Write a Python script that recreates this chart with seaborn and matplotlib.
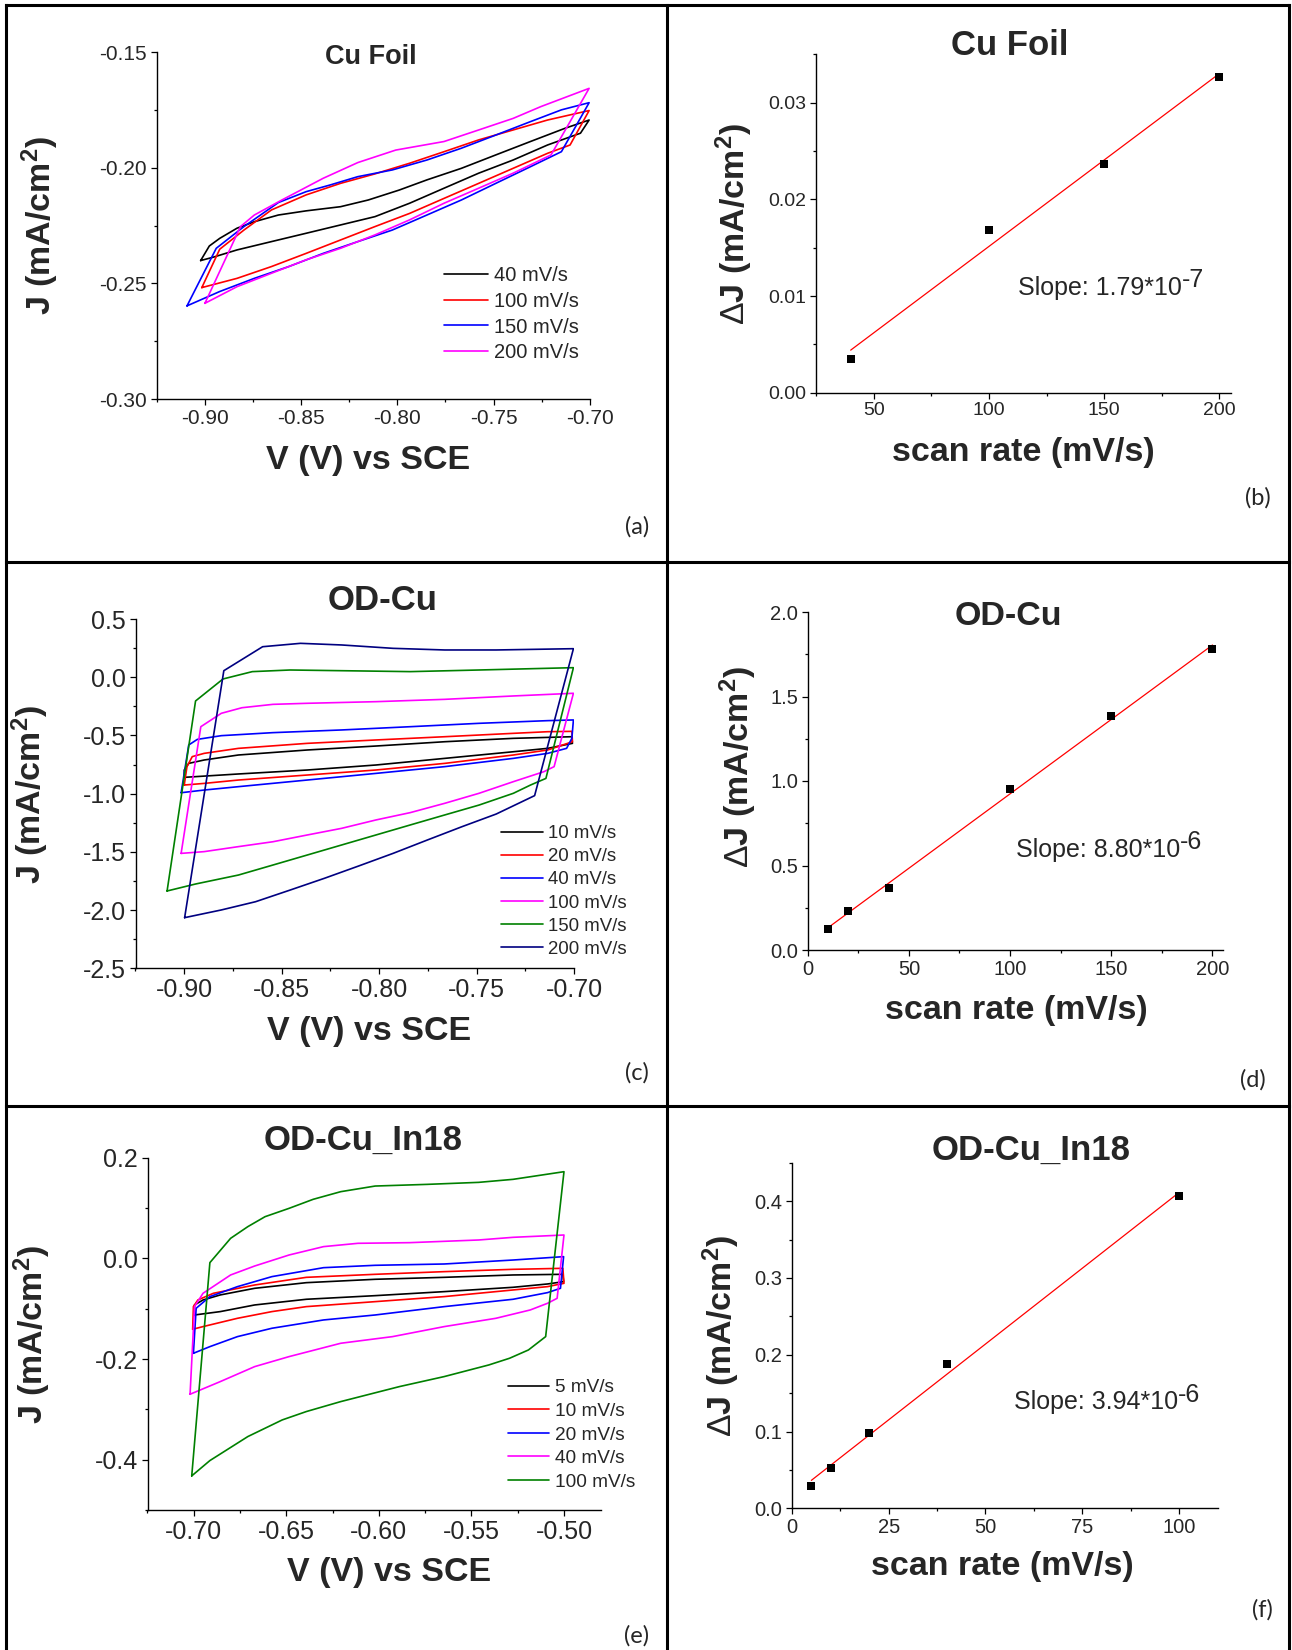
import numpy as np
import pandas as pd
import matplotlib
matplotlib.use("Agg")
import matplotlib.pyplot as plt
from matplotlib.lines import Line2D
from matplotlib.ticker import AutoMinorLocator, MultipleLocator, FormatStrFormatter
import seaborn as sns

# ---------------- data ----------------
# (a) Cu foil cyclic voltammograms, V vs SCE and J in mA/cm2
cu_labels = ["40 mV/s", "100 mV/s", "150 mV/s", "200 mV/s"]
cu_40_v = [-0.9022, -0.8977, -0.8923, -0.8833, -0.8743, -0.8618, -0.8474, -0.8295, -0.8151, -0.7990, -0.7846, -0.7667, -0.7488, -0.7308, -0.7129, -0.7003, -0.7048, -0.7219, -0.7398, -0.7577, -0.7757, -0.7936, -0.8116, -0.8295, -0.8474, -0.8654, -0.8833, -0.8959, -0.9022]
cu_40_j = [-0.2401, -0.2338, -0.2305, -0.2261, -0.2233, -0.2204, -0.2186, -0.2168, -0.2139, -0.2096, -0.2052, -0.2002, -0.1944, -0.1886, -0.1829, -0.1793, -0.1850, -0.1901, -0.1966, -0.2023, -0.2088, -0.2153, -0.2211, -0.2247, -0.2283, -0.2319, -0.2355, -0.2387, -0.2401]
cu_100_v = [-0.9016, -0.8923, -0.8797, -0.8654, -0.8474, -0.8295, -0.8116, -0.7936, -0.7757, -0.7577, -0.7398, -0.7219, -0.7003, -0.7102, -0.7219, -0.7398, -0.7577, -0.7757, -0.7936, -0.8116, -0.8295, -0.8474, -0.8654, -0.8833, -0.9016]
cu_100_j = [-0.2518, -0.2352, -0.2269, -0.2182, -0.2117, -0.2067, -0.2026, -0.1980, -0.1930, -0.1879, -0.1836, -0.1793, -0.1752, -0.1901, -0.1937, -0.2002, -0.2067, -0.2132, -0.2197, -0.2254, -0.2312, -0.2370, -0.2427, -0.2478, -0.2518]
cu_150_v = [-0.9093, -0.8941, -0.8797, -0.8618, -0.8474, -0.8349, -0.8205, -0.8026, -0.7846, -0.7667, -0.7488, -0.7308, -0.7147, -0.7003, -0.7147, -0.7308, -0.7488, -0.7667, -0.7846, -0.8026, -0.8205, -0.8385, -0.8564, -0.8743, -0.8923, -0.9093]
cu_150_j = [-0.2597, -0.2348, -0.2254, -0.2150, -0.2103, -0.2074, -0.2038, -0.2009, -0.1966, -0.1915, -0.1858, -0.1800, -0.1749, -0.1718, -0.1930, -0.1995, -0.2067, -0.2139, -0.2204, -0.2269, -0.2319, -0.2370, -0.2427, -0.2478, -0.2535, -0.2597]
cu_200_v = [-0.9000, -0.8815, -0.8743, -0.8600, -0.8385, -0.8205, -0.8008, -0.7757, -0.7577, -0.7398, -0.7254, -0.7003, -0.7201, -0.7398, -0.7577, -0.7757, -0.7936, -0.8116, -0.8295, -0.8474, -0.8654, -0.8833, -0.9000]
cu_200_j = [-0.2586, -0.2254, -0.2204, -0.2139, -0.2045, -0.1977, -0.1923, -0.1886, -0.1836, -0.1786, -0.1735, -0.1656, -0.1944, -0.2023, -0.2088, -0.2153, -0.2225, -0.2290, -0.2348, -0.2398, -0.2456, -0.2514, -0.2586]

# (b) Cu foil double-layer current difference vs scan rate
cu_rate = [40, 100, 150, 200]
cu_dj = [0.00346, 0.01685, 0.02365, 0.03266]

# (c) OD-Cu cyclic voltammograms
od_labels = ["10 mV/s", "20 mV/s", "40 mV/s", "100 mV/s", "150 mV/s", "200 mV/s"]
od_10_v = [-0.9000, -0.9000, -0.8977, -0.8898, -0.8722, -0.8369, -0.8017, -0.7664, -0.7312, -0.7012, -0.7009, -0.7136, -0.7312, -0.7664, -0.8017, -0.8369, -0.8722, -0.9000]
od_10_j = [-0.860, -0.797, -0.740, -0.711, -0.668, -0.625, -0.591, -0.554, -0.525, -0.511, -0.568, -0.611, -0.640, -0.697, -0.754, -0.797, -0.831, -0.860]
od_20_v = [-0.9000, -0.8986, -0.8959, -0.8898, -0.8722, -0.8369, -0.8017, -0.7664, -0.7312, -0.7136, -0.7012, -0.7009, -0.7136, -0.7312, -0.7664, -0.8017, -0.8369, -0.8722, -0.8898, -0.9000]
od_20_j = [-0.926, -0.768, -0.682, -0.654, -0.611, -0.568, -0.539, -0.511, -0.482, -0.468, -0.465, -0.554, -0.625, -0.668, -0.740, -0.797, -0.840, -0.883, -0.912, -0.926]
od_40_v = [-0.9016, -0.8977, -0.8933, -0.8810, -0.8545, -0.8193, -0.7841, -0.7488, -0.7136, -0.7004, -0.7012, -0.7039, -0.7136, -0.7312, -0.7664, -0.8017, -0.8369, -0.8722, -0.8898, -0.9016]
od_40_j = [-0.992, -0.582, -0.534, -0.502, -0.476, -0.453, -0.425, -0.396, -0.373, -0.367, -0.525, -0.611, -0.654, -0.697, -0.768, -0.826, -0.883, -0.940, -0.969, -0.992]
od_100_v = [-0.9016, -0.8915, -0.8810, -0.8704, -0.8545, -0.8369, -0.8017, -0.7664, -0.7312, -0.7004, -0.7103, -0.7155, -0.7312, -0.7488, -0.7664, -0.7841, -0.8017, -0.8193, -0.8369, -0.8545, -0.8722, -0.8898, -0.9016]
od_100_j = [-1.513, -0.425, -0.310, -0.262, -0.233, -0.224, -0.210, -0.190, -0.161, -0.138, -0.768, -0.811, -0.897, -0.997, -1.083, -1.163, -1.226, -1.298, -1.355, -1.413, -1.455, -1.498, -1.513]
od_150_v = [-0.9088, -0.8942, -0.8801, -0.8651, -0.8457, -0.8193, -0.7841, -0.7488, -0.7224, -0.7004, -0.7145, -0.7224, -0.7312, -0.7488, -0.7664, -0.7841, -0.8017, -0.8193, -0.8369, -0.8545, -0.8722, -0.8942, -0.9088]
od_150_j = [-1.836, -0.204, -0.015, 0.048, 0.062, 0.056, 0.048, 0.062, 0.073, 0.082, -0.869, -0.926, -0.997, -1.098, -1.183, -1.269, -1.355, -1.441, -1.527, -1.613, -1.699, -1.776, -1.836]
od_200_v = [-0.8998, -0.8797, -0.8598, -0.8404, -0.8193, -0.7929, -0.7664, -0.7400, -0.7004, -0.7203, -0.7400, -0.7576, -0.7753, -0.7929, -0.8105, -0.8281, -0.8457, -0.8634, -0.8810, -0.8998]
od_200_j = [-2.065, 0.056, 0.262, 0.291, 0.277, 0.248, 0.234, 0.234, 0.245, -1.017, -1.175, -1.284, -1.398, -1.513, -1.621, -1.727, -1.828, -1.928, -1.999, -2.065]

# (d) OD-Cu current difference vs scan rate
od_rate = [10, 20, 40, 100, 150, 200]
od_dj = [0.124, 0.229, 0.369, 0.954, 1.385, 1.779]

# (e) OD-Cu_In18 cyclic voltammograms
in_labels = ["5 mV/s", "10 mV/s", "20 mV/s", "40 mV/s", "100 mV/s"]
in_5_v = [-0.6996, -0.6996, -0.6950, -0.6857, -0.6671, -0.6392, -0.6020, -0.5647, -0.5275, -0.5006, -0.5002, -0.5089, -0.5275, -0.5647, -0.6020, -0.6392, -0.6671, -0.6857, -0.6996]
in_5_j = [-0.1125, -0.0926, -0.0827, -0.0727, -0.0595, -0.0483, -0.0416, -0.0377, -0.0330, -0.0317, -0.0463, -0.0509, -0.0575, -0.0661, -0.0741, -0.0813, -0.0926, -0.1058, -0.1125]
in_10_v = [-0.7006, -0.7002, -0.6978, -0.6894, -0.6671, -0.6392, -0.6020, -0.5647, -0.5275, -0.5006, -0.5000, -0.5089, -0.5275, -0.5647, -0.6020, -0.6392, -0.6578, -0.6764, -0.6950, -0.7006]
in_10_j = [-0.1409, -0.0959, -0.0827, -0.0694, -0.0529, -0.0377, -0.0317, -0.0264, -0.0218, -0.0198, -0.0496, -0.0562, -0.0628, -0.0760, -0.0860, -0.0959, -0.1058, -0.1191, -0.1356, -0.1409]
in_20_v = [-0.7002, -0.6987, -0.6913, -0.6764, -0.6578, -0.6299, -0.6020, -0.5647, -0.5275, -0.5002, -0.5019, -0.5089, -0.5275, -0.5647, -0.6020, -0.6299, -0.6578, -0.6764, -0.6913, -0.7002]
in_20_j = [-0.1886, -0.0992, -0.0760, -0.0562, -0.0363, -0.0185, -0.0138, -0.0112, -0.0033, 0.0034, -0.0595, -0.0681, -0.0813, -0.0959, -0.1125, -0.1224, -0.1389, -0.1555, -0.1754, -0.1886]
in_40_v = [-0.7020, -0.6996, -0.6950, -0.6801, -0.6671, -0.6485, -0.6299, -0.6113, -0.5833, -0.5461, -0.5275, -0.5000, -0.5037, -0.5089, -0.5182, -0.5368, -0.5647, -0.5926, -0.6206, -0.6485, -0.6671, -0.6857, -0.7020]
in_40_j = [-0.2700, -0.0959, -0.0694, -0.0330, -0.0152, 0.0067, 0.0233, 0.0299, 0.0312, 0.0365, 0.0418, 0.0464, -0.0794, -0.0893, -0.1025, -0.1191, -0.1356, -0.1555, -0.1687, -0.1952, -0.2151, -0.2449, -0.2700]
in_100_v = [-0.7011, -0.6913, -0.6801, -0.6708, -0.6615, -0.6485, -0.6355, -0.6206, -0.6020, -0.5740, -0.5461, -0.5275, -0.5000, -0.5099, -0.5192, -0.5294, -0.5406, -0.5647, -0.5889, -0.6206, -0.6392, -0.6522, -0.6708, -0.6913, -0.7011]
in_100_j = [-0.4322, -0.0085, 0.0398, 0.0630, 0.0828, 0.0994, 0.1173, 0.1325, 0.1437, 0.1470, 0.1510, 0.1570, 0.1722, -0.1555, -0.1820, -0.1985, -0.2118, -0.2349, -0.2548, -0.2846, -0.3044, -0.3210, -0.3541, -0.4018, -0.4322]

# (f) OD-Cu_In18 current difference vs scan rate
in_rate = [5, 10, 20, 40, 100]
in_dj = [0.0294, 0.0528, 0.0979, 0.1873, 0.4061]

# ---------------- style ----------------
W, H, DPI = 1292, 1650, 100
sns.set_style("ticks")
plt.rcParams["font.family"] = ["Liberation Sans", "DejaVu Sans"]
plt.rcParams["axes.unicode_minus"] = False
plt.rcParams["mathtext.fontset"] = "custom"
plt.rcParams["mathtext.rm"] = "Liberation Sans"
plt.rcParams["mathtext.bf"] = "Liberation Sans:bold"
plt.rcParams["mathtext.it"] = "Liberation Sans:italic"

fig = plt.figure(figsize=(W / DPI, H / DPI), dpi=DPI)
fig.patch.set_facecolor("white")


def fx(x):
    return x / W


def fy(y):
    return 1 - y / H


def make_axes(left, top, right, bottom):
    ax = fig.add_axes([fx(left), fy(bottom), (right - left) / W, (bottom - top) / H])
    ax.set_facecolor("white")
    sns.despine(ax=ax)
    for s in ("left", "bottom"):
        ax.spines[s].set_linewidth(1.0)
        ax.spines[s].set_color("black")
    ax.tick_params(which="major", direction="out", length=4.0, width=0.9, color="black", pad=3)
    ax.tick_params(which="minor", direction="out", length=2.3, width=0.9, color="black")
    ax.xaxis.set_minor_locator(AutoMinorLocator(2))
    ax.yaxis.set_minor_locator(AutoMinorLocator(2))
    ax.set_xlabel("")
    ax.set_ylabel("")
    return ax


def style_ticks(ax, xstep, ystep, xfmt, yfmt, size):
    ax.xaxis.set_major_locator(MultipleLocator(xstep))
    ax.yaxis.set_major_locator(MultipleLocator(ystep))
    ax.xaxis.set_major_formatter(FormatStrFormatter(xfmt))
    ax.yaxis.set_major_formatter(FormatStrFormatter(yfmt))
    ax.tick_params(axis="both", which="major", labelsize=size)


def draw_cv(ax, loops, labels, colors):
    for (v, j), lab, col in zip(loops, labels, colors):
        sns.lineplot(x=v, y=j, sort=False, estimator=None, color=col, lw=1.2,
                     label=lab, ax=ax)


def place_legend(ax, x0, y_first, n, spacing, size, hlen_px):
    fpx = size * DPI / 72
    yc = y_first + (n - 1) * spacing / 2
    handles, labels = ax.get_legend_handles_labels()
    ax.legend(handles, labels, loc="center left", bbox_to_anchor=(fx(x0), fy(yc)),
              bbox_transform=fig.transFigure, frameon=False, fontsize=size,
              borderpad=0, borderaxespad=0, handlelength=hlen_px / fpx,
              handletextpad=0.3, labelspacing=0.33)


def draw_rate(ax, rate, dj):
    sns.regplot(x=rate, y=dj, scatter=False, ci=None, truncate=True, color="red",
                line_kws={"lw": 0.9}, ax=ax)
    sns.scatterplot(x=rate, y=dj, marker="s", color="black", s=30, linewidth=0,
                    ax=ax, zorder=3)


def title(x, y, s, size):
    fig.text(fx(x), fy(y), s, ha="center", va="baseline", fontsize=size, fontweight="bold")


def xlabel(x, y, s):
    fig.text(fx(x), fy(y), s, ha="center", va="center", fontsize=24.5, fontweight="bold")


def ylabel(x, y, s):
    fig.text(fx(x), fy(y), s, ha="center", va="center", rotation=90, fontsize=24.5,
             fontweight="bold")


def slope(ax, x, y, main, exp, size=18):
    t = fig.text(fx(x), fy(y), main, ha="left", va="baseline", fontsize=size)
    ax.annotate(exp, xy=(1, 1), xycoords=t, xytext=(0, 5.5), textcoords="offset points",
                ha="left", va="top", fontsize=size)


J_LABEL = r"J (mA/cm$^{\mathbf{2}}$)"
DJ_LABEL = r"$\Delta$J (mA/cm$^{\mathbf{2}}$)"
V_LABEL = "V (V) vs SCE"
R_LABEL = "scan rate (mV/s)"

# ---------- (a) Cu foil CV ----------
ax_a = make_axes(156.8, 52.3, 589.7, 399)
draw_cv(ax_a, [(cu_40_v, cu_40_j), (cu_100_v, cu_100_j), (cu_150_v, cu_150_j), (cu_200_v, cu_200_j)],
        cu_labels, ["black", "#FF0000", "#0000FF", "#FF00FF"])
ax_a.set_xlim(-0.925, -0.70)
ax_a.set_ylim(-0.30, -0.15)
style_ticks(ax_a, 0.05, 0.05, "%.2f", "%.2f", 15)
place_legend(ax_a, 444.3, 276.7, 4, 25, 14.5, 44)
title(371, 64, "Cu Foil", 19.5)
xlabel(368, 461, V_LABEL)
ylabel(40, 225, J_LABEL)

# ---------- (b) Cu foil scan-rate fit ----------
ax_b = make_axes(816.1, 54.3, 1231, 392.7)
draw_rate(ax_b, cu_rate, cu_dj)
ax_b.set_xlim(25, 205)
ax_b.set_ylim(0, 0.035)
style_ticks(ax_b, 50, 0.01, "%d", "%.2f", 14)
title(1010, 55, "Cu Foil", 25)
xlabel(1023, 452, R_LABEL)
ylabel(734.6, 224, DJ_LABEL)
slope(ax_b, 1018, 295, "Slope: 1.79*10", "-7")

# ---------- (c) OD-Cu CV ----------
ax_c = make_axes(135.5, 619, 574.2, 968.3)
draw_cv(ax_c, [(od_10_v, od_10_j), (od_20_v, od_20_j), (od_40_v, od_40_j),
               (od_100_v, od_100_j), (od_150_v, od_150_j), (od_200_v, od_200_j)],
        od_labels, ["black", "#FF0000", "#0000FF", "#FF00FF", "#008000", "#000080"])
ax_c.set_xlim(-0.925, -0.70)
ax_c.set_ylim(-2.5, 0.5)
style_ticks(ax_c, 0.05, 0.5, "%.2f", "%.1f", 18)
place_legend(ax_c, 501, 833.3, 6, 23.3, 13.4, 41.5)
title(383, 610, "OD-Cu", 25)
xlabel(368.6, 1031.7, V_LABEL)
ylabel(30, 794, J_LABEL)

# ---------- (d) OD-Cu scan-rate fit ----------
ax_d = make_axes(807.7, 612, 1222.6, 950)
draw_rate(ax_d, od_rate, od_dj)
ax_d.set_xlim(0, 205)
ax_d.set_ylim(0, 2.0)
style_ticks(ax_d, 50, 0.5, "%d", "%.1f", 14.5)
title(1008, 625, "OD-Cu", 24.5)
xlabel(1016, 1010, R_LABEL)
ylabel(738.5, 767.5, DJ_LABEL)
slope(ax_d, 1016, 856.7, "Slope: 8.80*10", "-6")

# ---------- (e) OD-Cu_In18 CV ----------
ax_e = make_axes(147.5, 1157.7, 601, 1510)
draw_cv(ax_e, [(in_5_v, in_5_j), (in_10_v, in_10_j), (in_20_v, in_20_j),
               (in_40_v, in_40_j), (in_100_v, in_100_j)],
        in_labels, ["black", "#FF0000", "#0000FF", "#FF00FF", "#008000"])
ax_e.set_xlim(-0.725, -0.48)
ax_e.set_ylim(-0.5, 0.2)
style_ticks(ax_e, 0.05, 0.2, "%.2f", "%.1f", 18)
place_legend(ax_e, 508, 1388.3, 5, 23.3, 13.7, 41.4)
title(363, 1150, "OD-Cu_In18", 25)
xlabel(389, 1573, V_LABEL)
ylabel(32, 1334, J_LABEL)

# ---------- (f) OD-Cu_In18 scan-rate fit ----------
ax_f = make_axes(792, 1162.7, 1217.6, 1508.3)
draw_rate(ax_f, in_rate, in_dj)
ax_f.set_xlim(0, 110)
ax_f.set_ylim(0, 0.45)
style_ticks(ax_f, 25, 0.1, "%d", "%.1f", 14.5)
title(1031, 1160, "OD-Cu_In18", 25)
xlabel(1002.5, 1566.7, R_LABEL)
ylabel(721, 1336, DJ_LABEL)
slope(ax_f, 1014, 1409.3, "Slope: 3.94*10", "-6")

# ---------- panel letters and table grid ----------
letters = ["(a)", "(b)", "(c)", "(d)", "(e)", "(f)"]
letter_pos = [(637, 527), (1258, 498), (637, 1073), (1253, 1080), (637, 1636), (1262, 1610)]
for s, (x, y) in zip(letters, letter_pos):
    fig.text(fx(x), fy(y), s, ha="center", va="center", fontsize=17,
             family=["Lato", "DejaVu Sans"])

grid_lines = [((6, 6), (5, 1660)), ((1289, 1289), (5, 1660)), ((667, 667), (5, 1660)),
              ((6, 1289), (5, 5)), ((6, 1289), (562, 562)), ((6, 1289), (1106, 1106))]
for (xs, ys) in grid_lines:
    fig.add_artist(Line2D([fx(xs[0]), fx(xs[1])], [fy(ys[0]), fy(ys[1])],
                          transform=fig.transFigure, color="black", lw=2.2,
                          solid_capstyle="projecting"))

fig.savefig("out.png", dpi=DPI, facecolor="white")
